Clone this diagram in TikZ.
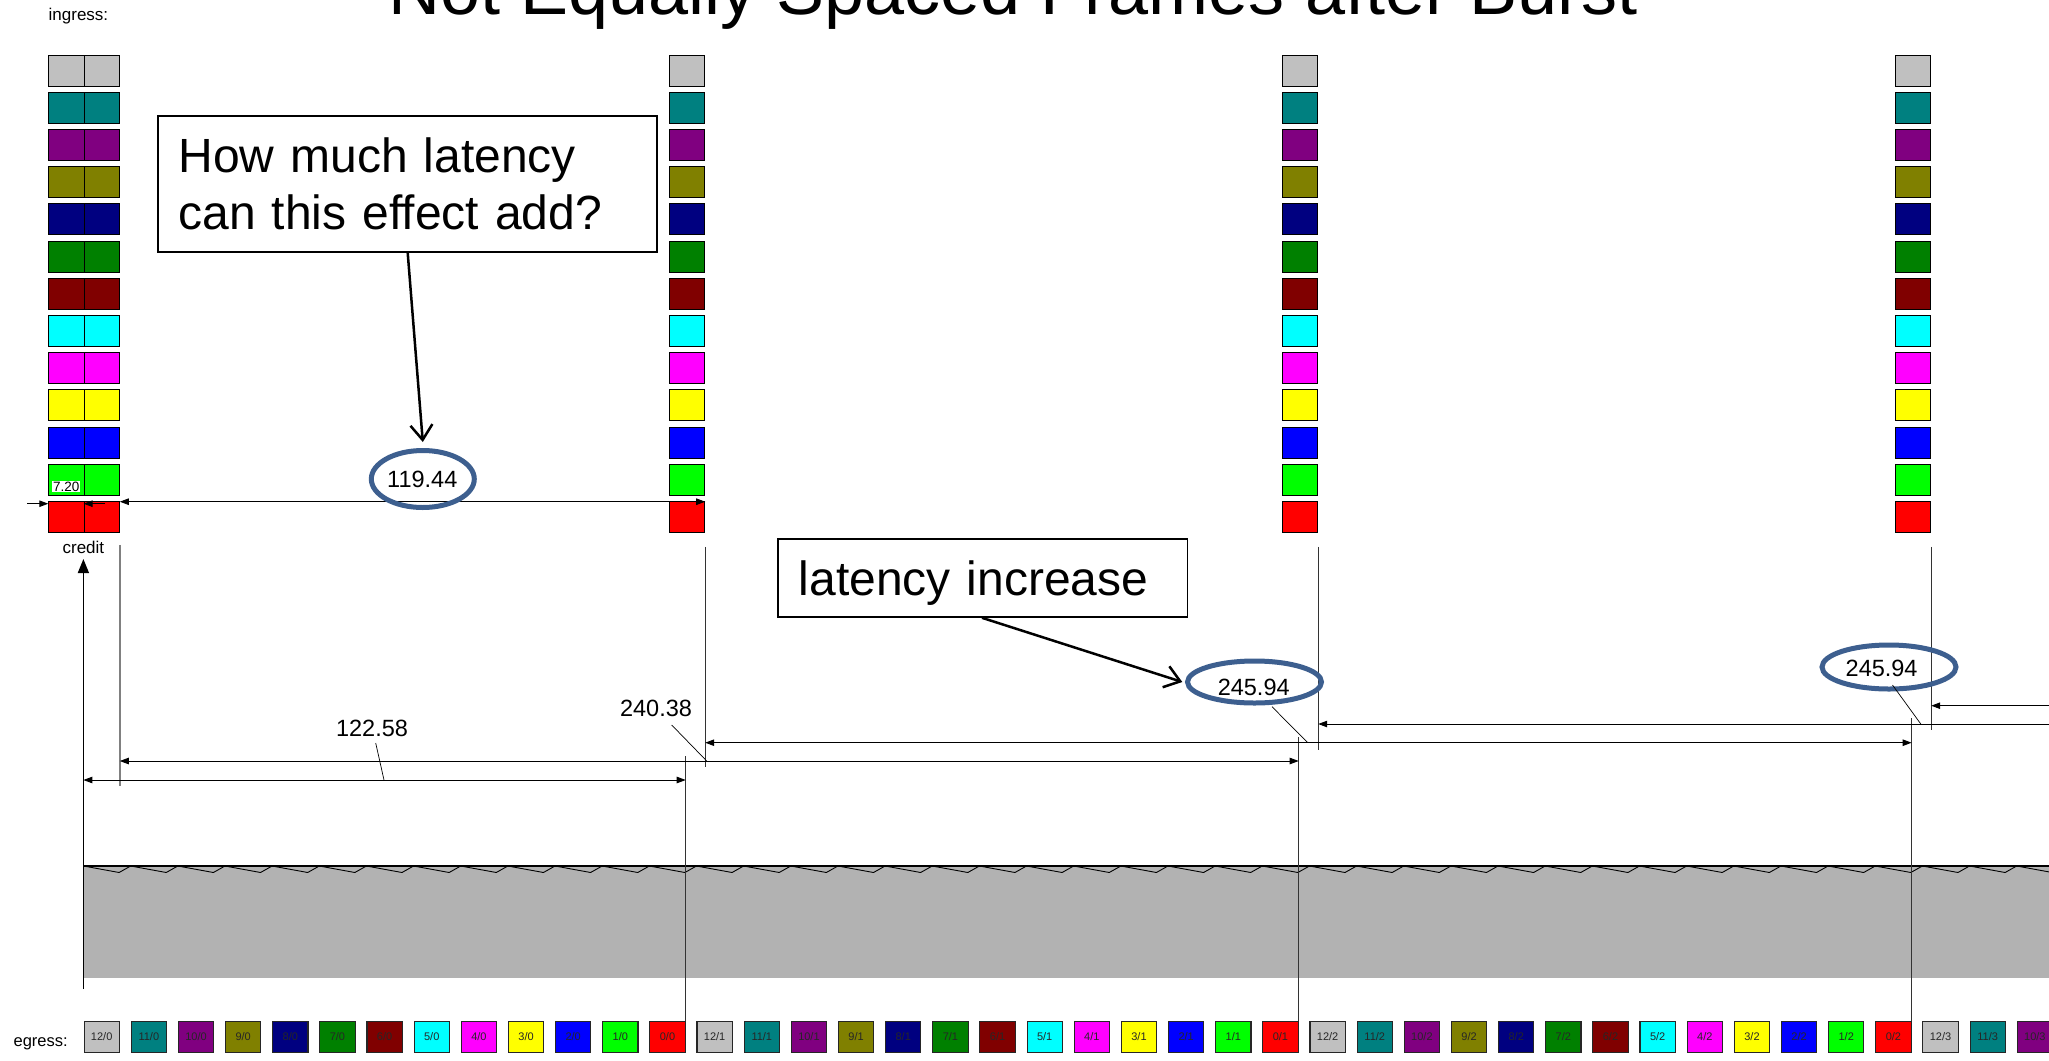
\documentclass[tikz,border=0pt]{standalone}
\usepackage{fontspec}
\setmainfont{Liberation Sans}
\usetikzlibrary{arrows.meta,shapes.geometric}
\definecolor{qc0}{HTML}{C0C0C0}
\definecolor{qc1}{HTML}{008080}
\definecolor{qc2}{HTML}{800080}
\definecolor{qc3}{HTML}{808000}
\definecolor{qc4}{HTML}{000080}
\definecolor{qc5}{HTML}{008000}
\definecolor{qc6}{HTML}{800000}
\definecolor{qc7}{HTML}{00FFFF}
\definecolor{qc8}{HTML}{FF00FF}
\definecolor{qc9}{HTML}{FFFF00}
\definecolor{qc10}{HTML}{0000FF}
\definecolor{qc11}{HTML}{00FF00}
\definecolor{qc12}{HTML}{FF0000}
\definecolor{bandgray}{HTML}{B2B2B2}
\definecolor{ellblue}{HTML}{3D5F8F}
\tikzset{
  inbox/.style={draw=black, line width=0.9pt, minimum width=35.3pt, minimum height=31pt, inner sep=0pt, anchor=north west},
  egbox/.style={draw=black!85, line width=1.1pt, minimum width=35.3pt, minimum height=31pt, inner sep=0pt, anchor=north west, font=\fontsize{11}{13}\selectfont, text=black!85},
  tipA/.tip={Triangle[length=9pt,width=6.5pt]},
  dimline/.style={line width=0.9pt, tipA-tipA},
  dimleft/.style={line width=0.9pt, tipA-},
  extline/.style={line width=0.9pt, black!80},
  leader/.style={line width=0.7pt},
  numlabel/.style={font=\fontsize{23.5}{28}\selectfont, inner sep=0pt},
  ring/.style={ellipse, draw=ellblue, line width=5pt, inner sep=0pt},
  callout/.style={draw=black, line width=1.8pt, inner sep=0pt, align=left, font=\fontsize{48}{57.6}\selectfont, anchor=north west},
  callarrow/.style={line width=2.5pt, -{Straight Barb[length=15pt,width=22pt]}},
  smalltext/.style={font=\fontsize{17}{20}\selectfont, inner sep=0pt}
}
\begin{document}
\begin{tikzpicture}[x=1pt,y=-1pt]
\useasboundingbox (0,0) rectangle (2049,1060);
\fill[white] (0,0) rectangle (2049,1060);

% title (mostly above the frame)
\node[anchor=base, font=\fontsize{72}{80}\selectfont, inner sep=0pt] (title) at (1013,14) {Not Equally Spaced Frames after Burst};
\node[smalltext, anchor=base west] (ingress) at (48.5,20) {ingress:};
\node[anchor=base west, font=\fontsize{16.5}{19}\selectfont, inner sep=0pt] (egress) at (13.4,1046.5) {egress:};

% ingress boxes
\foreach \i in {0,...,12}{
  \pgfmathsetmacro\yt{54.6+37.2*\i}
  \node[inbox, fill=qc\i] (ia\i) at (48.3,\yt) {};
  \node[inbox, fill=qc\i] (ib\i) at (83.6,\yt) {};
  \node[inbox, fill=qc\i] (ic\i) at (669,\yt) {};
  \node[inbox, fill=qc\i] (id\i) at (1282,\yt) {};
  \node[inbox, fill=qc\i] (ie\i) at (1895,\yt) {};
}

% buffer band
\fill[bandgray] (83.4,866) rectangle (2060,977.5);
\foreach \n in {0,...,42}{
  \pgfmathsetmacro\xs{83.5+47.15*\n}
  \draw[line width=0.9pt] (\xs,866) -- (\xs+35.6,872.5) -- (\xs+47.15,866);
}
\draw[line width=1.5pt] (83.4,866) -- (2060,866);

% egress boxes
\foreach \n in {0,...,41}{
  \pgfmathtruncatemacro\k{mod(\n,13)}
  \pgfmathtruncatemacro\r{div(\n,13)}
  \pgfmathtruncatemacro\lab{12-\k}
  \pgfmathsetmacro\xl{83.5+47.15*\n}
  \node[egbox, fill=qc\k] (e\n) at (\xl,1021) {\lab/\r};
}

% credit arrow
\coordinate (crbot) at (83.4,989);
\coordinate (crtip) at (83.4,559);
\draw[line width=1.5pt, -{Triangle[length=14pt,width=11pt]}] (crbot) -- (crtip);
\node[smalltext, anchor=base] (credit) at (83.4,553) {credit};

% ingress extension lines
\draw[line width=1.5pt, black!50] ([yshift=-12pt]ib12.south east) -- ([yshift=-253pt]ib12.south east);
\draw[extline] ([yshift=-14pt]ic12.south east) -- ([yshift=-234pt]ic12.south east);
\draw[extline] ([yshift=-14pt]id12.south east) -- ([yshift=-217pt]id12.south east);
\draw[extline] ([yshift=-14pt]ie12.south east) -- ([yshift=-197.5pt]ie12.south east);

% egress extension lines
\draw[extline] (e12.north east) -- ++(0,-265);
\draw[extline] (e25.north east) -- ++(0,-284);
\draw[extline] (e38.north east) -- ++(0,-303);

% 7.20 dimension
\draw[line width=0.9pt, -tipA] ([xshift=-21pt,yshift=-2.7pt]ia12.north west) -- ([yshift=-2.7pt]ia12.north west);
\draw[line width=0.9pt, -tipA] ([xshift=21.5pt,yshift=-2.7pt]ib12.north west) -- ([yshift=-2.7pt]ib12.north west);
\node[fill=white, inner sep=1pt, font=\fontsize{13.5}{15}\selectfont] (l720) at (66.2,486.7) {7.20};

% 119.44 dimension
\draw[dimline] ([yshift=-0.7pt]ib12.north east) -- ([yshift=-0.7pt]ic12.north east);
\node[ring, minimum width=103pt, minimum height=57pt] (el1) at (422.8,479) {};
\node[numlabel] (l119) at (422.3,479) {119.44};

% lower dimensions
\draw[dimline] (83.4,780) -- (e12.north east |- 0,780);
\node[numlabel] (l122) at (372,728) {122.58};
\draw[leader] (375.7,743) -- (384,780);

\draw[dimline] (ib12.south east |- 0,761) -- (e25.north east |- 0,761);
\node[numlabel] (l240) at (656,708) {240.38};
\draw[leader] (671.7,725) -- (706.7,761);

\draw[dimline] (ic12.south east |- 0,742.7) -- (e38.north east |- 0,742.7);
\node[ring, minimum width=134pt, minimum height=42pt] (el2) at (1254.5,682) {};
\node[numlabel] (l245a) at (1253.7,687) {245.94};
\draw[leader] (1272,706.7) -- (1307.7,742.7);

\draw[dimleft] (id12.south east |- 0,724) -- (2070,724);
\node[ring, minimum width=134pt, minimum height=44pt] (el3) at (1889,667) {};
\node[numlabel] (l245b) at (1881.6,668) {245.94};
\draw[leader] (1892.5,685) -- (1921,724.3);

\draw[dimleft] (ie12.south east |- 0,705.7) -- (2070,705.7);

% callouts
\node[callout, minimum width=499.2pt, minimum height=136pt, text width=457.4pt, inner xsep=20.9pt] (box1) at (156.8,115) {How much latency\\can this effect add?};
\draw[callarrow] ([xshift=250.9pt]box1.south west) -- ([yshift=6pt]el1.north);

\node[callout, minimum width=409.3pt, minimum height=77.7pt, text width=367.9pt, inner xsep=20.7pt, text height=35pt, text depth=0pt] (box2) at (777.3,538.3) {latency increase};
\draw[callarrow] ([xshift=204.7pt]box2.south west) -- ([xshift=-2.7pt]el2.west);
\end{tikzpicture}
\end{document}
